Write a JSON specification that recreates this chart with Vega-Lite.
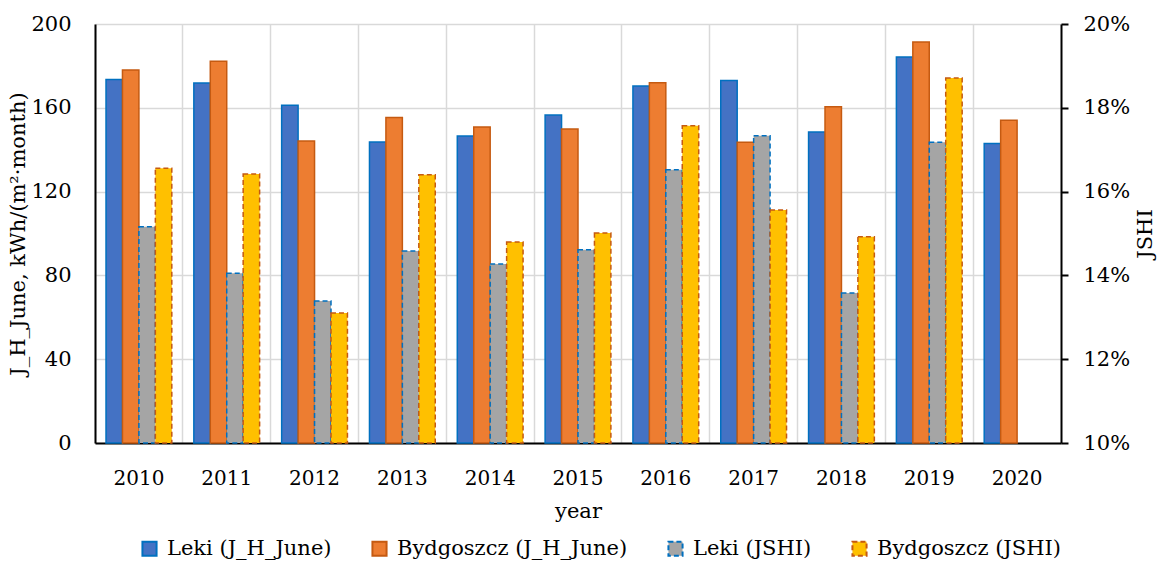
{
  "$schema": "https://vega.github.io/schema/vega-lite/v6.json",
  "width": 966,
  "height": 419,
  "autosize": "none",
  "padding": {"left": 95, "top": 24, "right": 111, "bottom": 122},
  "background": "white",
  "config": {
    "font": "DejaVu Serif",
    "view": {"stroke": null},
    "axis": {"labelFont": "DejaVu Serif", "titleFont": "DejaVu Serif", "labelFontSize": 21, "titleFontSize": 21, "labelColor": "#000", "titleColor": "#000", "titleFontWeight": "normal"},
    "legend": {"labelFont": "DejaVu Serif", "labelFontSize": 21, "labelColor": "#000", "labelLimit": 400}
  },
  "data": {"values": [
    {"year": "2010", "series": "Leki (J_H_June)", "m": "J", "v": 173.5},
    {"year": "2010", "series": "Bydgoszcz (J_H_June)", "m": "J", "v": 178},
    {"year": "2010", "series": "Leki (JSHI)", "m": "S", "v": 0.1516},
    {"year": "2010", "series": "Bydgoszcz (JSHI)", "m": "S", "v": 0.1656},
    {"year": "2011", "series": "Leki (J_H_June)", "m": "J", "v": 171.8},
    {"year": "2011", "series": "Bydgoszcz (J_H_June)", "m": "J", "v": 182.2},
    {"year": "2011", "series": "Leki (JSHI)", "m": "S", "v": 0.1405},
    {"year": "2011", "series": "Bydgoszcz (JSHI)", "m": "S", "v": 0.1642},
    {"year": "2012", "series": "Leki (J_H_June)", "m": "J", "v": 161.2},
    {"year": "2012", "series": "Bydgoszcz (J_H_June)", "m": "J", "v": 144.2},
    {"year": "2012", "series": "Leki (JSHI)", "m": "S", "v": 0.1339},
    {"year": "2012", "series": "Bydgoszcz (JSHI)", "m": "S", "v": 0.1310},
    {"year": "2013", "series": "Leki (J_H_June)", "m": "J", "v": 143.7},
    {"year": "2013", "series": "Bydgoszcz (J_H_June)", "m": "J", "v": 155.4},
    {"year": "2013", "series": "Leki (JSHI)", "m": "S", "v": 0.1458},
    {"year": "2013", "series": "Bydgoszcz (JSHI)", "m": "S", "v": 0.1640},
    {"year": "2014", "series": "Leki (J_H_June)", "m": "J", "v": 146.5},
    {"year": "2014", "series": "Bydgoszcz (J_H_June)", "m": "J", "v": 150.8},
    {"year": "2014", "series": "Leki (JSHI)", "m": "S", "v": 0.1427},
    {"year": "2014", "series": "Bydgoszcz (JSHI)", "m": "S", "v": 0.1480},
    {"year": "2015", "series": "Leki (J_H_June)", "m": "J", "v": 156.6},
    {"year": "2015", "series": "Bydgoszcz (J_H_June)", "m": "J", "v": 149.9},
    {"year": "2015", "series": "Leki (JSHI)", "m": "S", "v": 0.1461},
    {"year": "2015", "series": "Bydgoszcz (JSHI)", "m": "S", "v": 0.1501},
    {"year": "2016", "series": "Leki (J_H_June)", "m": "J", "v": 170.4},
    {"year": "2016", "series": "Bydgoszcz (J_H_June)", "m": "J", "v": 172},
    {"year": "2016", "series": "Leki (JSHI)", "m": "S", "v": 0.1652},
    {"year": "2016", "series": "Bydgoszcz (JSHI)", "m": "S", "v": 0.1757},
    {"year": "2017", "series": "Leki (J_H_June)", "m": "J", "v": 173},
    {"year": "2017", "series": "Bydgoszcz (J_H_June)", "m": "J", "v": 143.5},
    {"year": "2017", "series": "Leki (JSHI)", "m": "S", "v": 0.1733},
    {"year": "2017", "series": "Bydgoszcz (JSHI)", "m": "S", "v": 0.1556},
    {"year": "2018", "series": "Leki (J_H_June)", "m": "J", "v": 148.4},
    {"year": "2018", "series": "Bydgoszcz (J_H_June)", "m": "J", "v": 160.5},
    {"year": "2018", "series": "Leki (JSHI)", "m": "S", "v": 0.1358},
    {"year": "2018", "series": "Bydgoszcz (JSHI)", "m": "S", "v": 0.1492},
    {"year": "2019", "series": "Leki (J_H_June)", "m": "J", "v": 184.2},
    {"year": "2019", "series": "Bydgoszcz (J_H_June)", "m": "J", "v": 191.4},
    {"year": "2019", "series": "Leki (JSHI)", "m": "S", "v": 0.1718},
    {"year": "2019", "series": "Bydgoszcz (JSHI)", "m": "S", "v": 0.1871},
    {"year": "2020", "series": "Leki (J_H_June)", "m": "J", "v": 143},
    {"year": "2020", "series": "Bydgoszcz (J_H_June)", "m": "J", "v": 154}
  ]},
  "encoding": {
    "x": {"field": "year", "type": "nominal",
      "scale": {"paddingInner": 0, "paddingOuter": 0},
      "axis": {"labelAngle": 0, "labelFontSize": 20, "ticks": false, "grid": true, "bandPosition": 0, "gridColor": "#D9D9D9", "gridWidth": 1.5, "domainColor": "#000", "domainWidth": 2, "labelPadding": 25, "title": "year", "titlePadding": 12}},
    "xOffset": {"field": "series", "type": "nominal",
      "scale": {"domain": ["Leki (J_H_June)", "Bydgoszcz (J_H_June)", "Leki (JSHI)", "Bydgoszcz (JSHI)"], "paddingInner": 0, "paddingOuter": 0.67}},
    "color": {"field": "series", "type": "nominal",
      "scale": {"domain": ["Leki (J_H_June)", "Bydgoszcz (J_H_June)", "Leki (JSHI)", "Bydgoszcz (JSHI)"], "range": ["#4472C4", "#ED7D31", "#A5A5A5", "#FFC000"]},
      "legend": {"title": null, "orient": "none", "legendX": 44, "legendY": 514, "direction": "horizontal", "symbolType": "square", "symbolSize": 200, "symbolStrokeWidth": 2, "symbolOpacity": 1, "columnPadding": 36, "labelOffset": 7}},
    "stroke": {"field": "series", "type": "nominal",
      "scale": {"domain": ["Leki (J_H_June)", "Bydgoszcz (J_H_June)", "Leki (JSHI)", "Bydgoszcz (JSHI)"], "range": ["#0070C0", "#C55A11", "#0070C0", "#C55A11"]},
      "legend": {"title": null, "orient": "none", "legendX": 44, "legendY": 514, "direction": "horizontal", "symbolType": "square", "symbolSize": 200, "symbolStrokeWidth": 2, "columnPadding": 36, "labelOffset": 7}},
    "strokeDash": {"field": "series", "type": "nominal",
      "scale": {"domain": ["Leki (J_H_June)", "Bydgoszcz (J_H_June)", "Leki (JSHI)", "Bydgoszcz (JSHI)"], "range": [[1, 0], [1, 0], [5, 3], [5, 3]]},
      "legend": {"title": null, "orient": "none", "legendX": 44, "legendY": 514, "direction": "horizontal", "symbolType": "square", "symbolSize": 200, "symbolStrokeWidth": 2, "columnPadding": 36, "labelOffset": 7}}
  },
  "layer": [
    {
      "transform": [{"filter": "datum.m === 'J'"}],
      "mark": {"type": "bar", "strokeWidth": 1.5, "opacity": 1},
      "encoding": {
        "y": {"field": "v", "type": "quantitative",
          "scale": {"domain": [0, 200], "nice": false},
          "axis": {"values": [0, 40, 80, 120, 160, 200], "ticks": false, "grid": true, "gridColor": "#D9D9D9", "gridWidth": 1.5, "domainColor": "#000", "domainWidth": 2, "labelPadding": 24, "title": "J_H_June, kWh/(m²·month)", "titlePadding": 2}}
      }
    },
    {
      "transform": [{"filter": "datum.m === 'S'"}],
      "mark": {"type": "bar", "strokeWidth": 1.5, "opacity": 1},
      "encoding": {
        "y": {"field": "v", "type": "quantitative",
          "scale": {"domain": [0.10, 0.20], "nice": false, "zero": false},
          "axis": {"orient": "right", "values": [0.10, 0.12, 0.14, 0.16, 0.18, 0.20], "format": ".0%", "ticks": true, "tickColor": "#000", "tickWidth": 2, "tickSize": 7, "grid": false, "domainColor": "#000", "domainWidth": 2, "labelPadding": 15, "title": "JSHI", "titleAngle": -90, "titlePadding": 26}},
        "y2": {"datum": 0.10}
      }
    }
  ],
  "resolve": {"scale": {"y": "independent"}}
}
